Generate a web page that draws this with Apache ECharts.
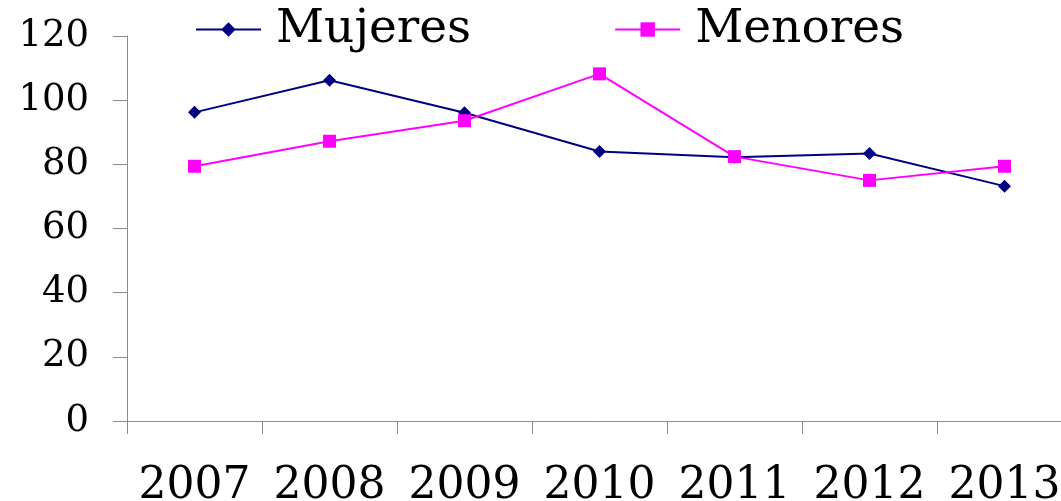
<!DOCTYPE html>
<html>
<head>
<meta charset="utf-8">
<script src="https://cdn.jsdelivr.net/npm/echarts@6/dist/echarts.min.js"></script>
<style>
  html, body { margin: 0; padding: 0; background: #fff; }
  #chart { width: 1061px; height: 501px; }
</style>
</head>
<body>
<div id="chart"></div>
<script>
const years = ['2007', '2008', '2009', '2010', '2011', '2012', '2013']
const mujeres = [96.2, 106.2, 96.1, 84.0, 82.2, 83.4, 73.2]
const menores = [79.4, 87.2, 93.6, 108.2, 82.4, 75.0, 79.4]

const serif = 'DejaVu Serif'
const axisGray = '#8c8c8c'

const option = {
  animation: false,
  backgroundColor: '#fff',
  legend: {
    left: 195,
    top: 6,
    padding: 0,
    itemWidth: 65,
    itemHeight: 18,
    itemGap: 143,
    textStyle: { fontFamily: serif, fontSize: 47, color: '#000', padding: [0, 0, 0, 10] },
    data: ['Mujeres', 'Menores']
  },
  // plot runs past the right edge (last category is cut), so no outer bounds clamping
  grid: { left: 127, top: 36, width: 945, height: 385, outerBoundsMode: 'none', containLabel: false },
  xAxis: {
    type: 'category',
    data: years,
    boundaryGap: true,
    axisLine: { lineStyle: { color: axisGray, width: 1 } },
    axisTick: { show: true, interval: 0, length: 13, lineStyle: { color: axisGray } },
    axisLabel: { interval: 0, hideOverlap: false, fontFamily: serif, fontSize: 44, color: '#000', margin: 44 },
    splitLine: { show: false }
  },
  yAxis: {
    type: 'value',
    min: 0,
    max: 120,
    interval: 20,
    axisLine: { show: true, lineStyle: { color: axisGray, width: 1 } },
    axisTick: { show: true, length: 14, lineStyle: { color: axisGray } },
    axisLabel: { fontFamily: serif, fontSize: 37, color: '#000', margin: 38 },
    splitLine: { show: false }
  },
  series: [
    {
      name: 'Mujeres',
      type: 'line',
      data: mujeres,
      symbol: 'diamond',
      symbolSize: 13,
      color: '#000080',
      lineStyle: { width: 2, color: '#000080' },
      itemStyle: { color: '#000080' }
    },
    {
      name: 'Menores',
      type: 'line',
      data: menores,
      symbol: 'rect',
      symbolSize: 13,
      color: '#ff00ff',
      lineStyle: { width: 2, color: '#ff00ff' },
      itemStyle: { color: '#ff00ff' }
    }
  ]
}

const chart = echarts.init(document.getElementById('chart'), null, { renderer: 'canvas' })
chart.setOption(option)
</script>
</body>
</html>
